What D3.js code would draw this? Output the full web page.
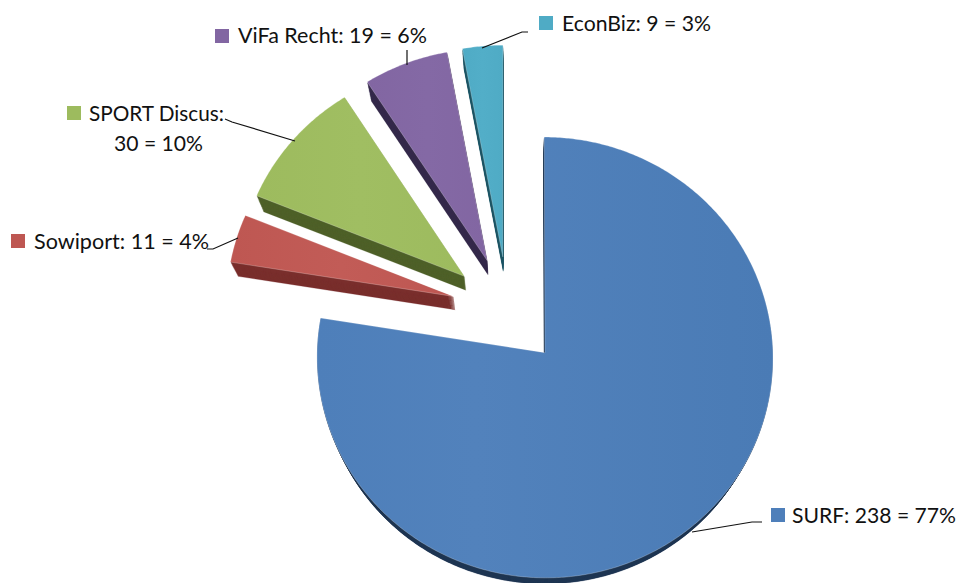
<!DOCTYPE html>
<html>
<head>
<meta charset="utf-8">
<script src="https://cdn.jsdelivr.net/npm/d3@7"></script>
<style>
  html, body { margin: 0; padding: 0; background: #fff; overflow: hidden; }
  svg { display: block; }
  text { font-family: Lato, "Open Sans", sans-serif; font-size: 20.5px; fill: #111; }
</style>
</head>
<body>
<svg id="chart" width="957" height="583"></svg>
<script>
// values
const categories = ['SURF', 'Sowiport', 'SPORT Discus', 'ViFa Recht', 'EconBiz'];
const counts = [238, 11, 30, 19, 9];
const percents = [77, 4, 10, 6, 3];

const topColors = ['#4e7fba', '#be5752', '#9dbb5e', '#8266a2', '#4fabc5'];
const lightColors = ['#5282bc', '#c25c57', '#a0be62', '#8469a5', '#52aec8'];
const sideColors = ['#1f3653', '#7a2f2d', '#4f6129', '#352a4b', '#1f5766'];

// label placement: swatch corner, text start/width, baseline, leader line
const labelLayout = [
  { sx: 771, sy: 508, tx: 792, tw: 164, by: 523, leader: [[762, 522], [752, 522], [692, 532]] },
  { sx: 11, sy: 234, tx: 34, tw: 175, by: 249, leader: [[207, 249], [213, 249], [238, 238]] },
  { sx: 67, sy: 106, tx: 89, tw: 135, by: 121, leader: [[225, 119], [232, 122], [295, 141]] },
  { sx: 215, sy: 29, tx: 238, tw: 189, by: 43, leader: [[407, 50], [407, 65]] },
  { sx: 539, sy: 16, tx: 562, tw: 149, by: 31, leader: [[528, 32], [522, 32], [482, 48]] }
];
const wrapLine = { cx: 158.5, tw: 89, by: 151 };

const svg = d3.select('#chart');

// perspective projection of the pie plane onto the screen
const origin = { x: 508, y: 311 };
const radiusX = 227;
const radiusY = 218.5;
const perspective = 0.0214;
const explode = 0.25;
const vanish = { x: 520, y: 808 };   // side walls run towards this point
const wallDepth = 0.026;

function project(x, y) {
  const s = 1 / (1 - perspective * y);
  return [origin.x + radiusX * x * s, origin.y + radiusY * y * s];
}

const slices = d3.pie().sort(null).startAngle(0).endAngle(2 * Math.PI)(counts);
const line = d3.line();

function slicePath(d) {
  const mid = (d.startAngle + d.endAngle) / 2;
  const cx = explode * Math.sin(mid);
  const cy = -explode * Math.cos(mid);
  const steps = Math.ceil((d.endAngle - d.startAngle) / 0.01);
  const angle = d3.scaleLinear().domain([0, steps]).range([d.startAngle, d.endAngle]);
  const pts = [project(cx, cy)];
  d3.range(steps + 1).forEach(i => {
    const a = angle(i);
    pts.push(project(cx + Math.sin(a), cy - Math.cos(a)));
  });
  return line(pts) + 'Z';
}

const defs = svg.append('defs');
slices.forEach((d, i) => {
  const grad = defs.append('linearGradient').attr('id', 'top' + i);
  grad.append('stop').attr('offset', '0%').attr('stop-color', topColors[i]);
  grad.append('stop').attr('offset', i === 0 ? '35%' : '50%').attr('stop-color', lightColors[i]);
  grad.append('stop').attr('offset', '100%').attr('stop-color', i === 0 ? '#4a7bb5' : topColors[i]);
});

// side walls: the slice outline repeated while shrinking to the vanishing point
const wallSteps = d3.range(14, 0, -1).map(k => 1 - wallDepth * k / 14);

const groups = svg.selectAll('.slice')
  .data(slices)
  .enter().append('g')
  .attr('class', 'slice');

groups.each(function(d, i) {
  const g = d3.select(this);
  const path = slicePath(d);
  g.selectAll('.wall')
    .data(wallSteps)
    .enter().append('path')
    .attr('class', 'wall')
    .attr('d', path)
    .attr('fill', sideColors[i])
    .attr('stroke', sideColors[i])
    .attr('stroke-width', 0.3)
    .attr('transform', f => `translate(${vanish.x},${vanish.y}) scale(${f}) translate(${-vanish.x},${-vanish.y})`);
  g.append('path')
    .attr('class', 'top')
    .attr('d', path)
    .attr('fill', `url(#top${i})`)
    .attr('stroke', 'rgba(255,255,255,0.3)')
    .attr('stroke-width', 0.8);
});

// leader lines
svg.selectAll('.leader')
  .data(labelLayout)
  .enter().append('path')
  .attr('class', 'leader')
  .attr('d', d => line(d.leader))
  .attr('fill', 'none')
  .attr('stroke', '#111')
  .attr('stroke-width', 1.2);

// legend swatches and labels
svg.selectAll('.swatch')
  .data(labelLayout)
  .enter().append('rect')
  .attr('class', 'swatch')
  .attr('x', d => d.sx)
  .attr('y', d => d.sy)
  .attr('width', 14)
  .attr('height', 14)
  .attr('fill', (d, i) => topColors[i]);

svg.selectAll('.label')
  .data(labelLayout)
  .enter().append('text')
  .attr('class', 'label')
  .attr('x', d => d.tx)
  .attr('y', d => d.by)
  .attr('textLength', d => d.tw)
  .attr('lengthAdjust', 'spacingAndGlyphs')
  .text((d, i) => i === 2
    ? `${categories[i]}:`
    : `${categories[i]}: ${counts[i]} = ${percents[i]}%`);

svg.append('text')
  .attr('class', 'label-wrap')
  .attr('x', wrapLine.cx - wrapLine.tw / 2)
  .attr('y', wrapLine.by)
  .attr('textLength', wrapLine.tw)
  .attr('lengthAdjust', 'spacingAndGlyphs')
  .text(`${counts[2]} = ${percents[2]}%`);
</script>
</body>
</html>
